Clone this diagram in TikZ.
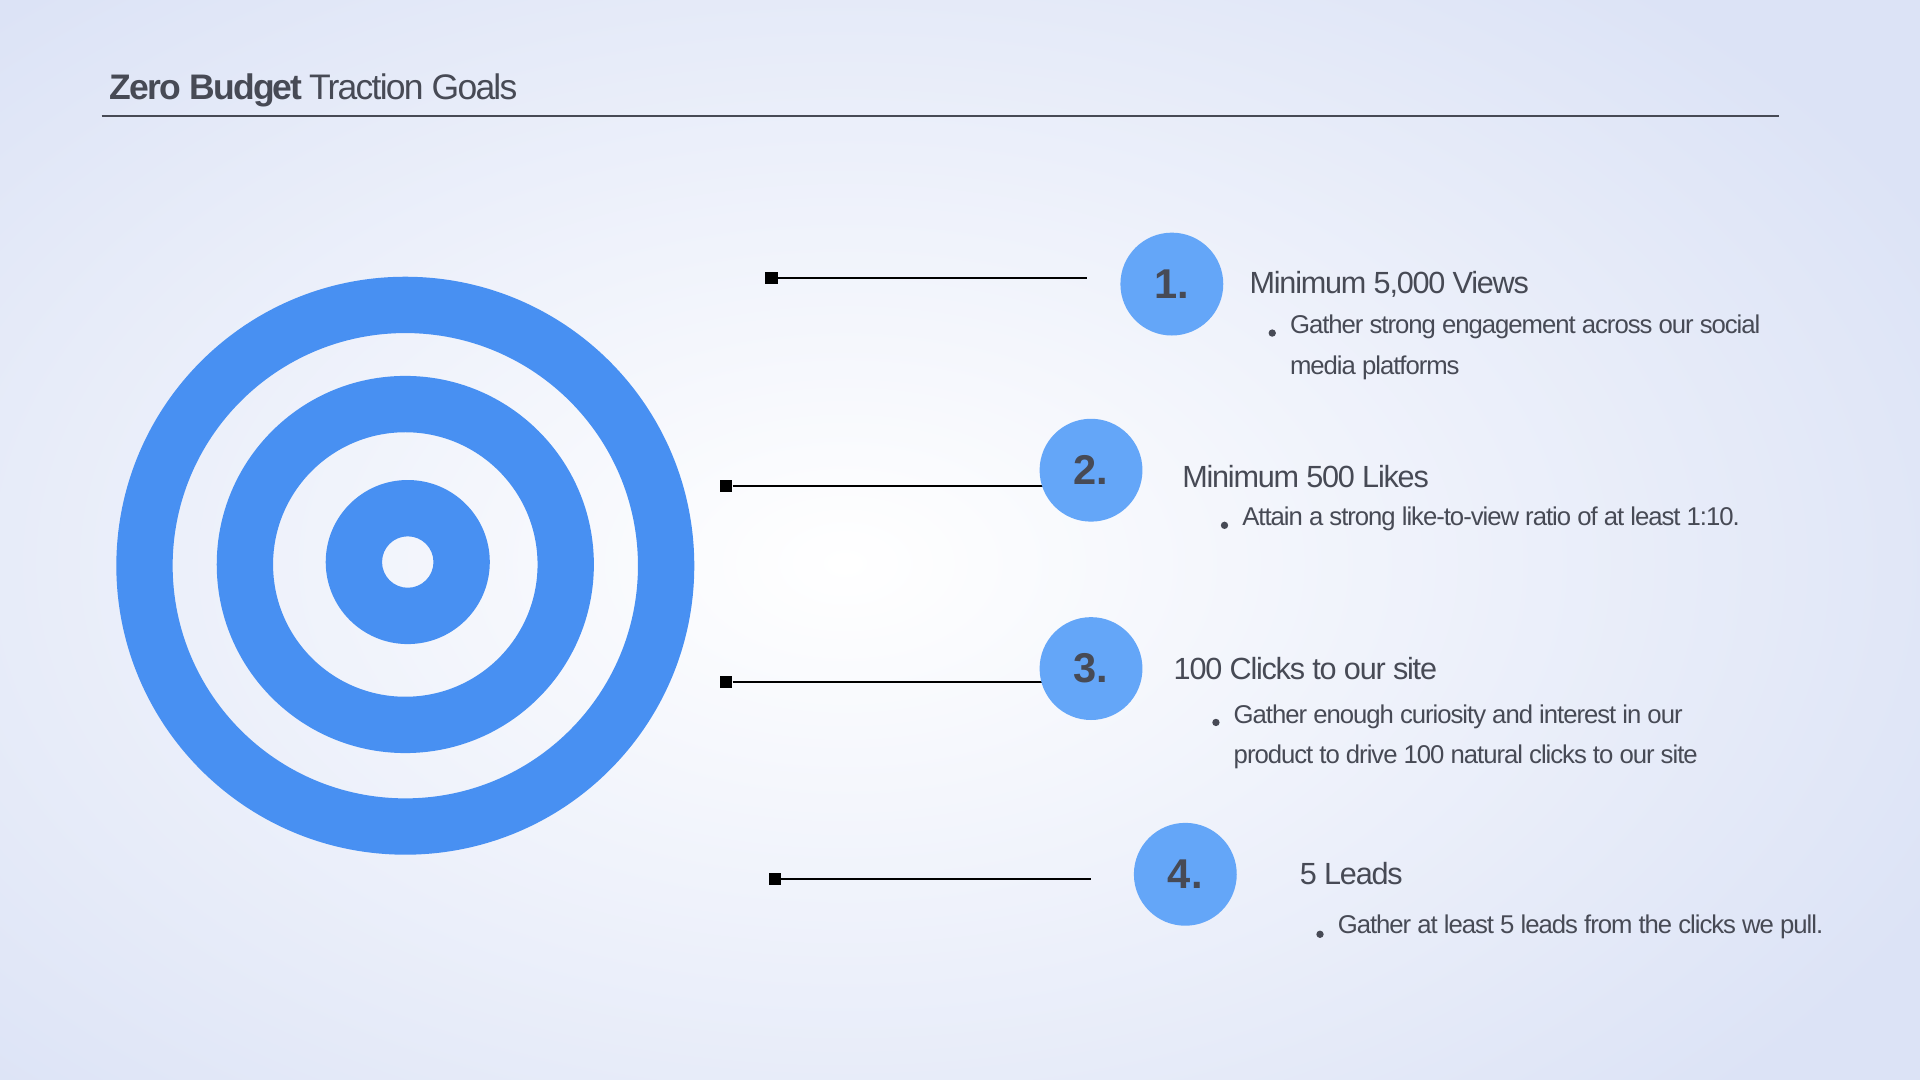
\documentclass[tikz,border=0pt]{standalone}
\usepackage{fontspec}
\setmainfont{Liberation Sans}
\definecolor{ringblue}{HTML}{4890F2}
\definecolor{badge}{HTML}{64A6F8}
\definecolor{bgedge}{HTML}{DCE3F6}
\definecolor{txt}{HTML}{474A55}
\begin{document}
\begin{tikzpicture}[x=1pt,y=-1pt,
  head/.style={anchor=west,text=txt,font=\fontsize{25}{30}\selectfont\addfontfeatures{LetterSpace=-4}},
  body/.style={anchor=north west,text=txt,align=left,font=\fontsize{21}{33}\selectfont\addfontfeatures{LetterSpace=-4}},
  dotb/.style={circle,fill=txt,inner sep=0pt,minimum size=6pt},
  badgec/.style={circle,fill=badge,minimum size=84pt,inner sep=0pt,text=txt,font=\fontsize{34}{34}\selectfont\bfseries},
  sq/.style={rectangle,fill=black,minimum size=10pt,inner sep=0pt},
  conn/.style={line width=1.2pt,black}]
\useasboundingbox (0,0) rectangle (1568,882);
\fill[bgedge] (0,0) rectangle (1568,882);
\shade[inner color=white,outer color=bgedge] (690,460) ellipse (1000 and 620);
\useasboundingbox (0,0) rectangle (1568,882);
% title
\node[anchor=base west,text=txt,font=\fontsize{29}{34}\selectfont\addfontfeatures{LetterSpace=-5}] (title) at (86,81) {\textbf{Zero Budget} Traction Goals};
\draw[line width=1.5pt,txt] (83,95) -- (1453,95);
% target
\fill[ringblue,even odd rule] (331,462) circle (236) (331,462) circle (190);
\fill[ringblue,even odd rule] (331,461) circle (154) (331,461) circle (108);
\fill[ringblue,even odd rule] (333,459) circle (67) (333,459) circle (21);
% items
\node[sq] (s1) at (630,227) {}; \coordinate (e1) at (888,227);
\draw[conn] (s1) -- (e1);
\node[badgec] (b1) at (957,232) {1.};
\node[head] (h1) at (1017,232) {Minimum 5,000 Views};
\node[dotb] (d1) at (1039,272) {};
\node[body] (t1) at (1050,254) {Gather strong engagement across our social\\media platforms};

\node[sq] (s2) at (593,397) {}; \coordinate (e2) at (852,397);
\draw[conn] (s2) -- (e2);
\node[badgec] (b2) at (891,384) {2.};
\node[head] (h2) at (962,389) {Minimum 500 Likes};
\node[dotb] (d2) at (1000,429) {};
\node[body] (t2) at (1011,410) {Attain a strong like-to-view ratio of at least 1:10.};

\node[sq] (s3) at (593,557) {}; \coordinate (e3) at (852,557);
\draw[conn] (s3) -- (e3);
\node[badgec] (b3) at (891,546) {3.};
\node[head] (h3) at (955,546) {100 Clicks to our site};
\node[dotb] (d3) at (993,590) {};
\node[body] (t3) at (1004,572) {Gather enough curiosity and interest in our\\product to drive 100 natural clicks to our site};

\node[sq] (s4) at (633,718) {}; \coordinate (e4) at (891,718);
\draw[conn] (s4) -- (e4);
\node[badgec] (b4) at (968,714) {4.};
\node[head] (h4) at (1058,713) {5 Leads};
\node[dotb] (d4) at (1078,763) {};
\node[body] (t4) at (1089,744) {Gather at least 5 leads from the clicks we pull.};
\end{tikzpicture}
\end{document}
